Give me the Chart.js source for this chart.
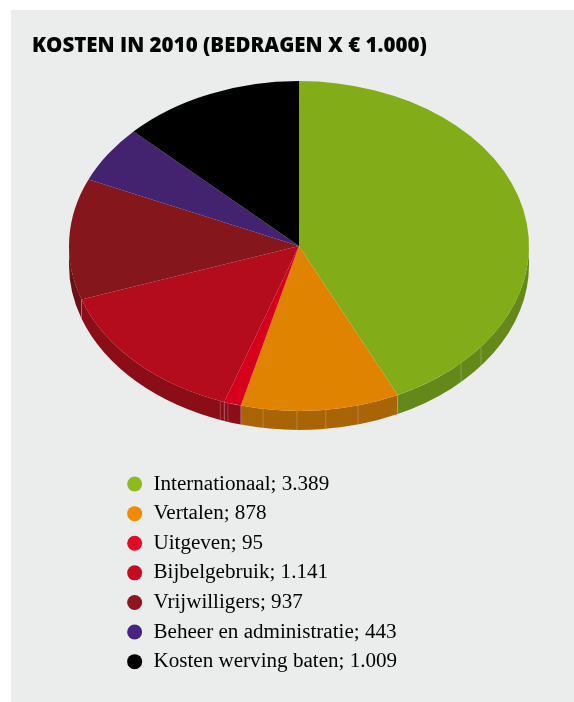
<!DOCTYPE html>
<html><head><meta charset="utf-8">
<script src="https://cdn.jsdelivr.net/npm/chart.js@4"></script>
<style>
html,body{margin:0;padding:0;background:#fff;overflow:hidden}
#wrap{position:absolute;left:0;top:0;width:574px;height:702px}
#panel{position:absolute;left:11px;top:10px;width:563px;height:692px;background:#ebeded}
canvas{position:absolute;left:0;top:0}
</style></head><body>
<div id="wrap"><div id="panel"></div><canvas id="c" width="574" height="702"></canvas></div>
<script>
const titleText = "KOSTEN IN 2010 (BEDRAGEN X € 1.000)";
const categories = ["Internationaal","Vertalen","Uitgeven","Bijbelgebruik","Vrijwilligers","Beheer en administratie","Kosten werving baten"];
const values = [3389,878,95,1141,937,443,1009];
const valueLabels = ["3.389","878","95","1.141","937","443","1.009"];
const topColors = ["#82ad18","#e08300","#d6001c","#b50c1d","#85161b","#43236f","#000000"];
const wallColors = ["#64881a","#a86405","#8a0d18","#8a0d18","#6a1116","#2e1850","#000000"];
const legendColors = ["#8cba1f","#f18a00","#e30a25","#c70a22","#8f151f","#45257f","#000000"];
const wallSeamDegrees = [37.7,45.2,75.1,83.3,90.5,99,108,110];

const SQUASH = 0.717, CENTER_Y = 246, DEPTH = 19;

const pie3d = {
  id:'pie3d',
  afterLayout(chart){
    const l = chart.legend;
    l.left=117.9; l.right=500; l.top=465; l.bottom=700; l.width=382; l.height=235;
  },
  beforeDatasetsDraw(chart){
    const ctx = chart.ctx, arcs = chart.getDatasetMeta(0).data;
    const c = arcs[0], cx = c.x, cy = c.y, r = c.outerRadius;
    const ey = a => CENTER_Y + Math.sin(a)*r*SQUASH;
    const ex = a => cx + Math.cos(a)*r;
    ctx.save();
    arcs.forEach((a,i)=>{
      let s = Math.max(a.startAngle,0), e = Math.min(a.endAngle,Math.PI);
      if (a.endAngle<0) return;
      if (e<=s) return;
      ctx.beginPath();
      ctx.ellipse(cx,CENTER_Y+DEPTH,r,r*SQUASH,0,s,e,false);
      ctx.lineTo(ex(e),ey(e));
      ctx.ellipse(cx,CENTER_Y,r,r*SQUASH,0,e,s,true);
      ctx.closePath();
      ctx.fillStyle = wallColors[i];
      ctx.fill();
    });
    ctx.strokeStyle='rgba(255,255,255,0.3)'; ctx.lineWidth=0.7;
    const seam = a => {ctx.beginPath();ctx.moveTo(ex(a),ey(a));ctx.lineTo(ex(a),ey(a)+DEPTH);ctx.stroke();};
    wallSeamDegrees.forEach(d=>seam(d*Math.PI/180));
    arcs.forEach(a=>{ if(a.endAngle>0&&a.endAngle<Math.PI) seam(a.endAngle); });
    ctx.restore();
    ctx.save();
    ctx.translate(0,CENTER_Y); ctx.scale(1,SQUASH); ctx.translate(0,-cy);
  },
  afterDatasetsDraw(chart){
    chart.ctx.restore();
  }
};

new Chart(document.getElementById('c'),{
  type:'pie',
  plugins:[pie3d],
  data:{labels:categories,datasets:[{data:values,backgroundColor:topColors,borderWidth:0,clip:false}]},
  options:{
    responsive:false,animation:false,radius:230,
    layout:{padding:{left:32,right:8,top:0,bottom:0}},
    plugins:{
      tooltip:{enabled:false},
      title:{display:true,text:titleText,align:'start',color:'#000',
        font:{family:'Open Sans',size:20.5,weight:'800'},padding:{top:34,bottom:10}},
      legend:{position:'chartArea',align:'start',
        labels:{usePointStyle:true,pointStyle:'circle',boxHeight:10.6,boxWidth:16.5,padding:8.5,color:'#1a1a1a',
          font:{family:'Liberation Serif',size:21.1},
          generateLabels(){return categories.map((n,i)=>({text:n+'; '+valueLabels[i],fillStyle:legendColors[i],strokeStyle:legendColors[i],lineWidth:0,pointStyle:'circle',index:i}));}
        }}
    }
  }
});
</script>
</body></html>
